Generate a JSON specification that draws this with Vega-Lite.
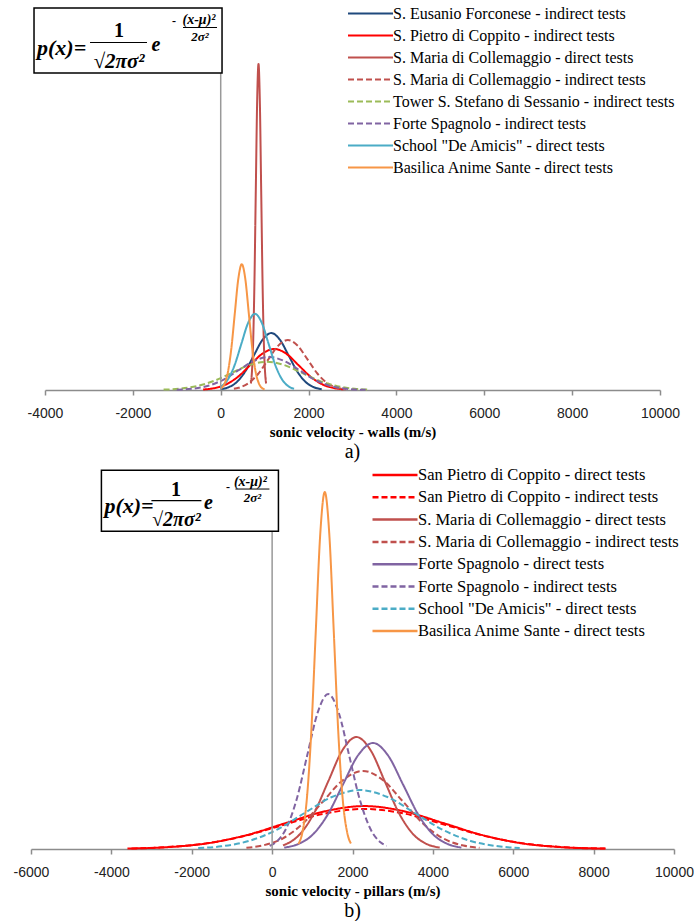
{
"$schema": "https://vega.github.io/schema/vega-lite/v6.json",
"background": "white",
"padding": {"left": 13, "top": 5, "right": 0, "bottom": 0},
"bounds": "flush",
"center": true,
"spacing": 90,
"config": {
  "view": {"stroke": null},
  "legend": {"padding": 0, "symbolType": "M-3,0H3", "symbolSize": 225, "symbolStrokeWidth": 2, "labelFont": "Liberation Serif", "labelFontSize": 16, "labelColor": "#000", "labelOffset": 14, "labelLimit": 500, "title": null},
  "axisX": {"domainColor": "#8c8c8c", "domainWidth": 1.5, "tickColor": "#8c8c8c", "tickWidth": 1.5, "tickSize": 5, "grid": false, "labelFont": "Liberation Sans", "labelFontSize": 14, "labelColor": "#222", "labelPadding": 11, "labelExpr": "'' + datum.value", "labelFlush": false, "labelOverlap": false, "titleFont": "Liberation Serif", "titleFontSize": 15, "titleFontWeight": "bold", "titleColor": "#000", "titlePadding": 4}
},
"resolve": {"scale": {"color": "independent", "strokeDash": "independent", "x": "independent", "y": "independent"}},
"datasets": {
  "one": [{}],
  "walls": [
    {"s": "S. Eusanio Forconese - indirect tests", "x": 0, "y": 0.15},
    {"s": "S. Eusanio Forconese - indirect tests", "x": 162.5, "y": 0.44},
    {"s": "S. Eusanio Forconese - indirect tests", "x": 360, "y": 1.37},
    {"s": "S. Eusanio Forconese - indirect tests", "x": 557.5, "y": 3.28},
    {"s": "S. Eusanio Forconese - indirect tests", "x": 755, "y": 6.13},
    {"s": "S. Eusanio Forconese - indirect tests", "x": 952.5, "y": 8.91},
    {"s": "S. Eusanio Forconese - indirect tests", "x": 1150, "y": 10.1},
    {"s": "S. Eusanio Forconese - indirect tests", "x": 1347.5, "y": 8.91},
    {"s": "S. Eusanio Forconese - indirect tests", "x": 1545, "y": 6.13},
    {"s": "S. Eusanio Forconese - indirect tests", "x": 1742.5, "y": 3.28},
    {"s": "S. Eusanio Forconese - indirect tests", "x": 1940, "y": 1.37},
    {"s": "S. Eusanio Forconese - indirect tests", "x": 2137.5, "y": 0.44},
    {"s": "S. Eusanio Forconese - indirect tests", "x": 2300, "y": 0.15},
    {"s": "S. Pietro di Coppito - indirect tests", "x": -400, "y": 0.09},
    {"s": "S. Pietro di Coppito - indirect tests", "x": -155, "y": 0.32},
    {"s": "S. Pietro di Coppito - indirect tests", "x": 120, "y": 0.98},
    {"s": "S. Pietro di Coppito - indirect tests", "x": 395, "y": 2.36},
    {"s": "S. Pietro di Coppito - indirect tests", "x": 670, "y": 4.41},
    {"s": "S. Pietro di Coppito - indirect tests", "x": 945, "y": 6.42},
    {"s": "S. Pietro di Coppito - indirect tests", "x": 1220, "y": 7.27},
    {"s": "S. Pietro di Coppito - indirect tests", "x": 1495, "y": 6.42},
    {"s": "S. Pietro di Coppito - indirect tests", "x": 1770, "y": 4.41},
    {"s": "S. Pietro di Coppito - indirect tests", "x": 2045, "y": 2.36},
    {"s": "S. Pietro di Coppito - indirect tests", "x": 2320, "y": 0.98},
    {"s": "S. Pietro di Coppito - indirect tests", "x": 2595, "y": 0.32},
    {"s": "S. Pietro di Coppito - indirect tests", "x": 2800, "y": 0.12},
    {"s": "S. Maria di Collemaggio - direct tests", "x": 686, "y": 1.15},
    {"s": "S. Maria di Collemaggio - direct tests", "x": 705, "y": 2.54},
    {"s": "S. Maria di Collemaggio - direct tests", "x": 736, "y": 7.82},
    {"s": "S. Maria di Collemaggio - direct tests", "x": 767, "y": 18.77},
    {"s": "S. Maria di Collemaggio - direct tests", "x": 798, "y": 35.06},
    {"s": "S. Maria di Collemaggio - direct tests", "x": 829, "y": 51.01},
    {"s": "S. Maria di Collemaggio - direct tests", "x": 860, "y": 57.8},
    {"s": "S. Maria di Collemaggio - direct tests", "x": 891, "y": 51.01},
    {"s": "S. Maria di Collemaggio - direct tests", "x": 922, "y": 35.06},
    {"s": "S. Maria di Collemaggio - direct tests", "x": 953, "y": 18.77},
    {"s": "S. Maria di Collemaggio - direct tests", "x": 984, "y": 7.82},
    {"s": "S. Maria di Collemaggio - direct tests", "x": 1015, "y": 2.54},
    {"s": "S. Maria di Collemaggio - direct tests", "x": 1034, "y": 1.15},
    {"s": "S. Maria di Collemaggio - indirect tests", "x": 300, "y": 0.21},
    {"s": "S. Maria di Collemaggio - indirect tests", "x": 405, "y": 0.39},
    {"s": "S. Maria di Collemaggio - indirect tests", "x": 630, "y": 1.2},
    {"s": "S. Maria di Collemaggio - indirect tests", "x": 855, "y": 2.88},
    {"s": "S. Maria di Collemaggio - indirect tests", "x": 1080, "y": 5.38},
    {"s": "S. Maria di Collemaggio - indirect tests", "x": 1305, "y": 7.83},
    {"s": "S. Maria di Collemaggio - indirect tests", "x": 1530, "y": 8.87},
    {"s": "S. Maria di Collemaggio - indirect tests", "x": 1755, "y": 7.83},
    {"s": "S. Maria di Collemaggio - indirect tests", "x": 1980, "y": 5.38},
    {"s": "S. Maria di Collemaggio - indirect tests", "x": 2205, "y": 2.88},
    {"s": "S. Maria di Collemaggio - indirect tests", "x": 2430, "y": 1.2},
    {"s": "S. Maria di Collemaggio - indirect tests", "x": 2655, "y": 0.39},
    {"s": "S. Maria di Collemaggio - indirect tests", "x": 2850, "y": 0.12},
    {"s": "Tower S. Stefano di Sessanio - indirect tests", "x": -1300, "y": 0.07},
    {"s": "Tower S. Stefano di Sessanio - indirect tests", "x": -950, "y": 0.22},
    {"s": "Tower S. Stefano di Sessanio - indirect tests", "x": -550, "y": 0.68},
    {"s": "Tower S. Stefano di Sessanio - indirect tests", "x": -150, "y": 1.62},
    {"s": "Tower S. Stefano di Sessanio - indirect tests", "x": 250, "y": 3.03},
    {"s": "Tower S. Stefano di Sessanio - indirect tests", "x": 650, "y": 4.41},
    {"s": "Tower S. Stefano di Sessanio - indirect tests", "x": 1050, "y": 5.0},
    {"s": "Tower S. Stefano di Sessanio - indirect tests", "x": 1450, "y": 4.41},
    {"s": "Tower S. Stefano di Sessanio - indirect tests", "x": 1850, "y": 3.03},
    {"s": "Tower S. Stefano di Sessanio - indirect tests", "x": 2250, "y": 1.62},
    {"s": "Tower S. Stefano di Sessanio - indirect tests", "x": 2650, "y": 0.68},
    {"s": "Tower S. Stefano di Sessanio - indirect tests", "x": 3050, "y": 0.22},
    {"s": "Tower S. Stefano di Sessanio - indirect tests", "x": 3400, "y": 0.07},
    {"s": "Forte Spagnolo - indirect tests", "x": -1000, "y": 0.05},
    {"s": "Forte Spagnolo - indirect tests", "x": -605, "y": 0.26},
    {"s": "Forte Spagnolo - indirect tests", "x": -264, "y": 0.79},
    {"s": "Forte Spagnolo - indirect tests", "x": 77, "y": 1.9},
    {"s": "Forte Spagnolo - indirect tests", "x": 418, "y": 3.55},
    {"s": "Forte Spagnolo - indirect tests", "x": 759, "y": 5.16},
    {"s": "Forte Spagnolo - indirect tests", "x": 1100, "y": 5.85},
    {"s": "Forte Spagnolo - indirect tests", "x": 1441, "y": 5.16},
    {"s": "Forte Spagnolo - indirect tests", "x": 1782, "y": 3.55},
    {"s": "Forte Spagnolo - indirect tests", "x": 2123, "y": 1.9},
    {"s": "Forte Spagnolo - indirect tests", "x": 2464, "y": 0.79},
    {"s": "Forte Spagnolo - indirect tests", "x": 2805, "y": 0.26},
    {"s": "Forte Spagnolo - indirect tests", "x": 3146, "y": 0.07},
    {"s": "Forte Spagnolo - indirect tests", "x": 3300, "y": 0.03},
    {"s": "School \"De Amicis\" - direct tests", "x": 0, "y": 0.56},
    {"s": "School \"De Amicis\" - direct tests", "x": 160, "y": 1.83},
    {"s": "School \"De Amicis\" - direct tests", "x": 315, "y": 4.38},
    {"s": "School \"De Amicis\" - direct tests", "x": 470, "y": 8.19},
    {"s": "School \"De Amicis\" - direct tests", "x": 625, "y": 11.91},
    {"s": "School \"De Amicis\" - direct tests", "x": 780, "y": 13.5},
    {"s": "School \"De Amicis\" - direct tests", "x": 935, "y": 11.91},
    {"s": "School \"De Amicis\" - direct tests", "x": 1090, "y": 8.19},
    {"s": "School \"De Amicis\" - direct tests", "x": 1245, "y": 4.38},
    {"s": "School \"De Amicis\" - direct tests", "x": 1400, "y": 1.83},
    {"s": "School \"De Amicis\" - direct tests", "x": 1555, "y": 0.59},
    {"s": "School \"De Amicis\" - direct tests", "x": 1670, "y": 0.22},
    {"s": "Basilica Anime Sante - direct tests", "x": 0, "y": 0.25},
    {"s": "Basilica Anime Sante - direct tests", "x": 80, "y": 0.98},
    {"s": "Basilica Anime Sante - direct tests", "x": 160, "y": 3.02},
    {"s": "Basilica Anime Sante - direct tests", "x": 240, "y": 7.24},
    {"s": "Basilica Anime Sante - direct tests", "x": 320, "y": 13.53},
    {"s": "Basilica Anime Sante - direct tests", "x": 400, "y": 19.68},
    {"s": "Basilica Anime Sante - direct tests", "x": 480, "y": 22.3},
    {"s": "Basilica Anime Sante - direct tests", "x": 560, "y": 19.68},
    {"s": "Basilica Anime Sante - direct tests", "x": 640, "y": 13.53},
    {"s": "Basilica Anime Sante - direct tests", "x": 720, "y": 7.24},
    {"s": "Basilica Anime Sante - direct tests", "x": 800, "y": 3.02},
    {"s": "Basilica Anime Sante - direct tests", "x": 880, "y": 0.98},
    {"s": "Basilica Anime Sante - direct tests", "x": 960, "y": 0.25},
    {"s": "Basilica Anime Sante - direct tests", "x": 1000, "y": 0.11}
  ],
  "pillars": [
    {"s": "San Pietro di Coppito - direct tests", "x": -3600, "y": 0.021},
    {"s": "San Pietro di Coppito - direct tests", "x": -2575, "y": 0.092},
    {"s": "San Pietro di Coppito - direct tests", "x": -1600, "y": 0.28},
    {"s": "San Pietro di Coppito - direct tests", "x": -625, "y": 0.68},
    {"s": "San Pietro di Coppito - direct tests", "x": 350, "y": 1.27},
    {"s": "San Pietro di Coppito - direct tests", "x": 1325, "y": 1.84},
    {"s": "San Pietro di Coppito - direct tests", "x": 2300, "y": 2.09},
    {"s": "San Pietro di Coppito - direct tests", "x": 3275, "y": 1.84},
    {"s": "San Pietro di Coppito - direct tests", "x": 4250, "y": 1.27},
    {"s": "San Pietro di Coppito - direct tests", "x": 5225, "y": 0.68},
    {"s": "San Pietro di Coppito - direct tests", "x": 6200, "y": 0.28},
    {"s": "San Pietro di Coppito - direct tests", "x": 7175, "y": 0.092},
    {"s": "San Pietro di Coppito - direct tests", "x": 8150, "y": 0.023},
    {"s": "San Pietro di Coppito - direct tests", "x": 8280, "y": 0.019},
    {"s": "San Pietro di Coppito - indirect tests", "x": -3500, "y": 0.029},
    {"s": "San Pietro di Coppito - indirect tests", "x": -2700, "y": 0.086},
    {"s": "San Pietro di Coppito - indirect tests", "x": -1700, "y": 0.26},
    {"s": "San Pietro di Coppito - indirect tests", "x": -700, "y": 0.63},
    {"s": "San Pietro di Coppito - indirect tests", "x": 300, "y": 1.18},
    {"s": "San Pietro di Coppito - indirect tests", "x": 1300, "y": 1.72},
    {"s": "San Pietro di Coppito - indirect tests", "x": 2300, "y": 1.95},
    {"s": "San Pietro di Coppito - indirect tests", "x": 3300, "y": 1.72},
    {"s": "San Pietro di Coppito - indirect tests", "x": 4300, "y": 1.18},
    {"s": "San Pietro di Coppito - indirect tests", "x": 5300, "y": 0.63},
    {"s": "San Pietro di Coppito - indirect tests", "x": 6300, "y": 0.26},
    {"s": "San Pietro di Coppito - indirect tests", "x": 7300, "y": 0.086},
    {"s": "San Pietro di Coppito - indirect tests", "x": 8300, "y": 0.022},
    {"s": "S. Maria di Collemaggio - direct tests", "x": 270, "y": 0.18},
    {"s": "S. Maria di Collemaggio - direct tests", "x": 350, "y": 0.24},
    {"s": "S. Maria di Collemaggio - direct tests", "x": 700, "y": 0.74},
    {"s": "S. Maria di Collemaggio - direct tests", "x": 1050, "y": 1.77},
    {"s": "S. Maria di Collemaggio - direct tests", "x": 1400, "y": 3.31},
    {"s": "S. Maria di Collemaggio - direct tests", "x": 1750, "y": 4.81},
    {"s": "S. Maria di Collemaggio - direct tests", "x": 2100, "y": 5.45},
    {"s": "S. Maria di Collemaggio - direct tests", "x": 2450, "y": 4.81},
    {"s": "S. Maria di Collemaggio - direct tests", "x": 2800, "y": 3.31},
    {"s": "S. Maria di Collemaggio - direct tests", "x": 3150, "y": 1.77},
    {"s": "S. Maria di Collemaggio - direct tests", "x": 3500, "y": 0.74},
    {"s": "S. Maria di Collemaggio - direct tests", "x": 3850, "y": 0.24},
    {"s": "S. Maria di Collemaggio - direct tests", "x": 4170, "y": 0.07},
    {"s": "S. Maria di Collemaggio - indirect tests", "x": -640, "y": 0.06},
    {"s": "S. Maria di Collemaggio - indirect tests", "x": -240, "y": 0.17},
    {"s": "S. Maria di Collemaggio - indirect tests", "x": 260, "y": 0.51},
    {"s": "S. Maria di Collemaggio - indirect tests", "x": 760, "y": 1.23},
    {"s": "S. Maria di Collemaggio - indirect tests", "x": 1260, "y": 2.3},
    {"s": "S. Maria di Collemaggio - indirect tests", "x": 1760, "y": 3.35},
    {"s": "S. Maria di Collemaggio - indirect tests", "x": 2260, "y": 3.8},
    {"s": "S. Maria di Collemaggio - indirect tests", "x": 2760, "y": 3.35},
    {"s": "S. Maria di Collemaggio - indirect tests", "x": 3260, "y": 2.3},
    {"s": "S. Maria di Collemaggio - indirect tests", "x": 3760, "y": 1.23},
    {"s": "S. Maria di Collemaggio - indirect tests", "x": 4260, "y": 0.51},
    {"s": "S. Maria di Collemaggio - indirect tests", "x": 4760, "y": 0.17},
    {"s": "S. Maria di Collemaggio - indirect tests", "x": 5160, "y": 0.06},
    {"s": "Forte Spagnolo - direct tests", "x": 300, "y": 0.07},
    {"s": "Forte Spagnolo - direct tests", "x": 635, "y": 0.23},
    {"s": "Forte Spagnolo - direct tests", "x": 1010, "y": 0.7},
    {"s": "Forte Spagnolo - direct tests", "x": 1385, "y": 1.68},
    {"s": "Forte Spagnolo - direct tests", "x": 1760, "y": 3.13},
    {"s": "Forte Spagnolo - direct tests", "x": 2135, "y": 4.55},
    {"s": "Forte Spagnolo - direct tests", "x": 2510, "y": 5.16},
    {"s": "Forte Spagnolo - direct tests", "x": 2885, "y": 4.55},
    {"s": "Forte Spagnolo - direct tests", "x": 3260, "y": 3.13},
    {"s": "Forte Spagnolo - direct tests", "x": 3635, "y": 1.68},
    {"s": "Forte Spagnolo - direct tests", "x": 4010, "y": 0.7},
    {"s": "Forte Spagnolo - direct tests", "x": 4385, "y": 0.23},
    {"s": "Forte Spagnolo - direct tests", "x": 4710, "y": 0.07},
    {"s": "Forte Spagnolo - indirect tests", "x": -60, "y": 0.15},
    {"s": "Forte Spagnolo - indirect tests", "x": 95, "y": 0.33},
    {"s": "Forte Spagnolo - indirect tests", "x": 355, "y": 1.02},
    {"s": "Forte Spagnolo - indirect tests", "x": 615, "y": 2.45},
    {"s": "Forte Spagnolo - indirect tests", "x": 875, "y": 4.57},
    {"s": "Forte Spagnolo - indirect tests", "x": 1135, "y": 6.65},
    {"s": "Forte Spagnolo - indirect tests", "x": 1395, "y": 7.54},
    {"s": "Forte Spagnolo - indirect tests", "x": 1655, "y": 6.65},
    {"s": "Forte Spagnolo - indirect tests", "x": 1915, "y": 4.57},
    {"s": "Forte Spagnolo - indirect tests", "x": 2175, "y": 2.45},
    {"s": "Forte Spagnolo - indirect tests", "x": 2435, "y": 1.02},
    {"s": "Forte Spagnolo - indirect tests", "x": 2695, "y": 0.33},
    {"s": "Forte Spagnolo - indirect tests", "x": 2850, "y": 0.15},
    {"s": "School \"De Amicis\" - direct tests", "x": -1840, "y": 0.043},
    {"s": "School \"De Amicis\" - direct tests", "x": -1270, "y": 0.13},
    {"s": "School \"De Amicis\" - direct tests", "x": -580, "y": 0.39},
    {"s": "School \"De Amicis\" - direct tests", "x": 110, "y": 0.93},
    {"s": "School \"De Amicis\" - direct tests", "x": 800, "y": 1.74},
    {"s": "School \"De Amicis\" - direct tests", "x": 1490, "y": 2.53},
    {"s": "School \"De Amicis\" - direct tests", "x": 2180, "y": 2.87},
    {"s": "School \"De Amicis\" - direct tests", "x": 2870, "y": 2.53},
    {"s": "School \"De Amicis\" - direct tests", "x": 3560, "y": 1.74},
    {"s": "School \"De Amicis\" - direct tests", "x": 4250, "y": 0.93},
    {"s": "School \"De Amicis\" - direct tests", "x": 4940, "y": 0.39},
    {"s": "School \"De Amicis\" - direct tests", "x": 5630, "y": 0.13},
    {"s": "School \"De Amicis\" - direct tests", "x": 6160, "y": 0.043},
    {"s": "Basilica Anime Sante - direct tests", "x": 650, "y": 0.24},
    {"s": "Basilica Anime Sante - direct tests", "x": 747.5, "y": 0.76},
    {"s": "Basilica Anime Sante - direct tests", "x": 860, "y": 2.35},
    {"s": "Basilica Anime Sante - direct tests", "x": 972.5, "y": 5.64},
    {"s": "Basilica Anime Sante - direct tests", "x": 1085, "y": 10.54},
    {"s": "Basilica Anime Sante - direct tests", "x": 1197.5, "y": 15.33},
    {"s": "Basilica Anime Sante - direct tests", "x": 1310, "y": 17.37},
    {"s": "Basilica Anime Sante - direct tests", "x": 1422.5, "y": 15.33},
    {"s": "Basilica Anime Sante - direct tests", "x": 1535, "y": 10.54},
    {"s": "Basilica Anime Sante - direct tests", "x": 1647.5, "y": 5.64},
    {"s": "Basilica Anime Sante - direct tests", "x": 1760, "y": 2.35},
    {"s": "Basilica Anime Sante - direct tests", "x": 1872.5, "y": 0.76},
    {"s": "Basilica Anime Sante - direct tests", "x": 1960, "y": 0.27}
  ]
},
"vconcat": [
  {
    "width": 615,
    "height": 370,
    "title": {"text": "a)", "orient": "bottom", "anchor": "middle", "font": "Liberation Serif", "fontSize": 20, "fontWeight": "normal", "color": "#000", "offset": 3},
    "layer": [
      {
        "data": {"name": "walls"},
        "mark": {"type": "line", "interpolate": "monotone", "strokeWidth": 2},
        "encoding": {
          "x": {"field": "x", "type": "quantitative", "scale": {"domain": [-4000, 10000], "nice": false, "zero": false}, "axis": {"values": [-4000, -2000, 0, 2000, 4000, 6000, 8000, 10000]}, "title": "sonic velocity - walls (m/s)"},
          "y": {"field": "y", "type": "quantitative", "scale": {"domain": [0, 65.6], "nice": false}, "axis": null},
          "color": {"field": "s", "type": "nominal", "scale": {"domain": ["S. Eusanio Forconese - indirect tests", "S. Pietro di Coppito - indirect tests", "S. Maria di Collemaggio - direct tests", "S. Maria di Collemaggio - indirect tests", "Tower S. Stefano di Sessanio - indirect tests", "Forte Spagnolo - indirect tests", "School \"De Amicis\" - direct tests", "Basilica Anime Sante - direct tests"], "range": ["#1F497D", "#FF0000", "#C0504D", "#C0504D", "#9BBB59", "#8064A2", "#4BACC6", "#F79646"]}, "legend": {"orient": "none", "legendX": 317, "legendY": -15, "rowPadding": 5.0}},
          "strokeDash": {"field": "s", "type": "nominal", "scale": {"domain": ["S. Eusanio Forconese - indirect tests", "S. Pietro di Coppito - indirect tests", "S. Maria di Collemaggio - direct tests", "S. Maria di Collemaggio - indirect tests", "Tower S. Stefano di Sessanio - indirect tests", "Forte Spagnolo - indirect tests", "School \"De Amicis\" - direct tests", "Basilica Anime Sante - direct tests"], "range": [[1, 0], [1, 0], [1, 0], [6, 3], [6, 3], [6, 3], [1, 0], [1, 0]]}, "legend": {"orient": "none", "legendX": 317, "legendY": -15, "rowPadding": 5.0}}
        }
      },
      {"data": {"name": "one"}, "mark": {"type": "rule", "color": "#999999", "strokeWidth": 1.5}, "encoding": {"x": {"datum": 0}}},
      {"data": {"name": "one"}, "mark": {"type": "rect", "fill": "white", "stroke": "black", "strokeWidth": 1.5}, "encoding": {"x": {"datum": -4250}, "x2": {"datum": 30}, "y": {"datum": 67.73}, "y2": {"datum": 56.21}}},
      {"data": {"name": "one"}, "mark": {"type": "text", "text": "p(x)=", "align": "left", "baseline": "middle", "font": "Liberation Serif", "fontStyle": "italic", "fontWeight": "bold", "fontSize": 22, "color": "#000"}, "encoding": {"x": {"datum": -4182}, "y": {"datum": 60.64}}},
      {"data": {"name": "one"}, "mark": {"type": "text", "text": "1", "align": "center", "baseline": "middle", "font": "Liberation Serif", "fontWeight": "bold", "fontSize": 20, "color": "#000"}, "encoding": {"x": {"datum": -2315}, "y": {"datum": 63.65}}},
      {"data": {"name": "one"}, "mark": {"type": "rule", "color": "#000", "strokeWidth": 1.2}, "encoding": {"x": {"datum": -2975}, "x2": {"datum": -1678}, "y": {"datum": 61.61}}},
      {"data": {"name": "one"}, "mark": {"type": "text", "text": "√2πσ²", "align": "center", "baseline": "middle", "font": "Liberation Serif", "fontStyle": "italic", "fontWeight": "bold", "fontSize": 21, "color": "#000"}, "encoding": {"x": {"datum": -2315}, "y": {"datum": 58.16}}},
      {"data": {"name": "one"}, "mark": {"type": "text", "text": "e", "align": "center", "baseline": "middle", "font": "Liberation Serif", "fontStyle": "italic", "fontWeight": "bold", "fontSize": 20, "color": "#000"}, "encoding": {"x": {"datum": -1473}, "y": {"datum": 61.17}}},
      {"data": {"name": "one"}, "mark": {"type": "text", "text": "-", "align": "center", "baseline": "middle", "font": "Liberation Serif", "fontWeight": "bold", "fontSize": 12, "color": "#000"}, "encoding": {"x": {"datum": -1063}, "y": {"datum": 65.48}}},
      {"data": {"name": "one"}, "mark": {"type": "text", "text": "(x-μ)²", "align": "center", "baseline": "middle", "font": "Liberation Serif", "fontStyle": "italic", "fontWeight": "bold", "fontSize": 14, "color": "#000"}, "encoding": {"x": {"datum": -494}, "y": {"datum": 65.6}}},
      {"data": {"name": "one"}, "mark": {"type": "rule", "color": "#000", "strokeWidth": 1}, "encoding": {"x": {"datum": -858}, "x2": {"datum": -84}, "y": {"datum": 64.27}}},
      {"data": {"name": "one"}, "mark": {"type": "text", "text": "2σ²", "align": "center", "baseline": "middle", "font": "Liberation Serif", "fontStyle": "italic", "fontWeight": "bold", "fontSize": 13, "color": "#000"}, "encoding": {"x": {"datum": -471}, "y": {"datum": 62.59}}}
    ]
  },
  {
    "width": 643,
    "height": 369,
    "title": {"text": "b)", "orient": "bottom", "anchor": "middle", "font": "Liberation Serif", "fontSize": 20, "fontWeight": "normal", "color": "#000", "offset": 3},
    "layer": [
      {
        "data": {"name": "pillars"},
        "mark": {"type": "line", "interpolate": "monotone", "strokeWidth": 2},
        "encoding": {
          "x": {"field": "x", "type": "quantitative", "scale": {"domain": [-6000, 10000], "nice": false, "zero": false}, "axis": {"values": [-6000, -4000, -2000, 0, 2000, 4000, 6000, 8000, 10000]}, "title": "sonic velocity - pillars (m/s)"},
          "y": {"field": "y", "type": "quantitative", "scale": {"domain": [0, 17.96], "nice": false}, "axis": null},
          "color": {"field": "s", "type": "nominal", "scale": {"domain": ["San Pietro di Coppito - direct tests", "San Pietro di Coppito - indirect tests", "S. Maria di Collemaggio - direct tests", "S. Maria di Collemaggio - indirect tests", "Forte Spagnolo - direct tests", "Forte Spagnolo - indirect tests", "School \"De Amicis\" - direct tests", "Basilica Anime Sante - direct tests"], "range": ["#FF0000", "#FF0000", "#C0504D", "#C0504D", "#8064A2", "#8064A2", "#4BACC6", "#F79646"]}, "legend": {"orient": "none", "legendX": 355, "legendY": -14, "rowPadding": 4.3, "labelFontSize": 16.5, "symbolStrokeWidth": 2.5}},
          "strokeDash": {"field": "s", "type": "nominal", "scale": {"domain": ["San Pietro di Coppito - direct tests", "San Pietro di Coppito - indirect tests", "S. Maria di Collemaggio - direct tests", "S. Maria di Collemaggio - indirect tests", "Forte Spagnolo - direct tests", "Forte Spagnolo - indirect tests", "School \"De Amicis\" - direct tests", "Basilica Anime Sante - direct tests"], "range": [[1, 0], [6, 3], [1, 0], [6, 3], [1, 0], [6, 3], [6, 3], [1, 0]]}, "legend": {"orient": "none", "legendX": 355, "legendY": -14, "rowPadding": 4.3, "labelFontSize": 16.5, "symbolStrokeWidth": 2.5}},
          "strokeWidth": {"condition": {"test": "indexof(datum.s, 'San Pietro') >= 0", "value": 3}, "value": 2}
        }
      },
      {"data": {"name": "one"}, "mark": {"type": "rule", "color": "#999999", "strokeWidth": 1.5}, "encoding": {"x": {"datum": 0}}},
      {"data": {"name": "one"}, "mark": {"type": "rect", "fill": "white", "stroke": "black", "strokeWidth": 1.5}, "encoding": {"x": {"datum": -4248}, "x2": {"datum": 157}, "y": {"datum": 18.44}, "y2": {"datum": 15.47}}},
      {"data": {"name": "one"}, "mark": {"type": "text", "text": "p(x)=", "align": "left", "baseline": "middle", "font": "Liberation Serif", "fontStyle": "italic", "fontWeight": "bold", "fontSize": 22, "color": "#000"}, "encoding": {"x": {"datum": -4173}, "y": {"datum": 16.69}}},
      {"data": {"name": "one"}, "mark": {"type": "text", "text": "1", "align": "center", "baseline": "middle", "font": "Liberation Serif", "fontWeight": "bold", "fontSize": 20, "color": "#000"}, "encoding": {"x": {"datum": -2390}, "y": {"datum": 17.47}}},
      {"data": {"name": "one"}, "mark": {"type": "rule", "color": "#000", "strokeWidth": 1.2}, "encoding": {"x": {"datum": -3004}, "x2": {"datum": -1759}, "y": {"datum": 16.96}}},
      {"data": {"name": "one"}, "mark": {"type": "text", "text": "√2πσ²", "align": "center", "baseline": "middle", "font": "Liberation Serif", "fontStyle": "italic", "fontWeight": "bold", "fontSize": 20, "color": "#000"}, "encoding": {"x": {"datum": -2381}, "y": {"datum": 16.01}}},
      {"data": {"name": "one"}, "mark": {"type": "text", "text": "e", "align": "center", "baseline": "middle", "font": "Liberation Serif", "fontStyle": "italic", "fontWeight": "bold", "fontSize": 20, "color": "#000"}, "encoding": {"x": {"datum": -1585}, "y": {"datum": 16.84}}},
      {"data": {"name": "one"}, "mark": {"type": "text", "text": "-", "align": "center", "baseline": "middle", "font": "Liberation Serif", "fontWeight": "bold", "fontSize": 12, "color": "#000"}, "encoding": {"x": {"datum": -1095}, "y": {"datum": 17.63}}},
      {"data": {"name": "one"}, "mark": {"type": "text", "text": "(x-μ)²", "align": "center", "baseline": "middle", "font": "Liberation Serif", "fontStyle": "italic", "fontWeight": "bold", "fontSize": 14, "color": "#000"}, "encoding": {"x": {"datum": -540}, "y": {"datum": 17.87}}},
      {"data": {"name": "one"}, "mark": {"type": "rule", "color": "#000", "strokeWidth": 1}, "encoding": {"x": {"datum": -913}, "x2": {"datum": -67}, "y": {"datum": 17.52}}},
      {"data": {"name": "one"}, "mark": {"type": "text", "text": "2σ²", "align": "center", "baseline": "middle", "font": "Liberation Serif", "fontStyle": "italic", "fontWeight": "bold", "fontSize": 13, "color": "#000"}, "encoding": {"x": {"datum": -490}, "y": {"datum": 17.07}}}
    ]
  }
]
}
